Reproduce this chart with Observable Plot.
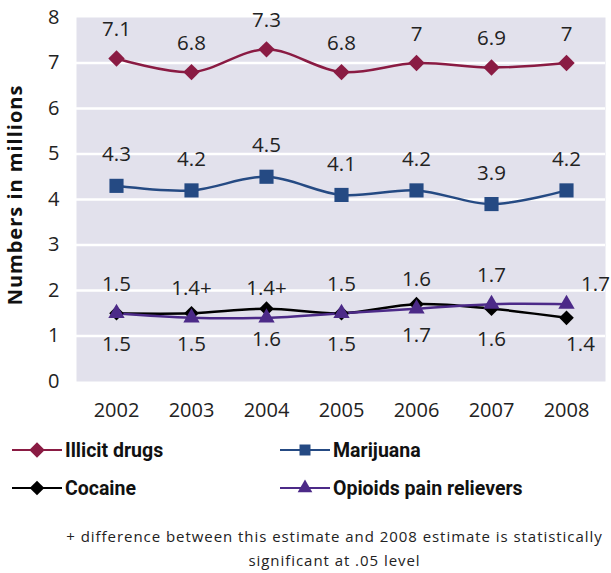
<!DOCTYPE html>
<html>
<head>
<meta charset="utf-8">
<script src="https://cdn.jsdelivr.net/npm/d3@7"></script>
<script src="https://cdn.jsdelivr.net/npm/@observablehq/plot@0.6"></script>
<style>
  body { margin: 0; background: #fff; font-family: "Open Sans", sans-serif; color: #111; }
  #chart { position: relative; width: 611px; }
  .legend { display: grid; grid-template-columns: 268px 330px; padding-left: 12px; row-gap: 8px; margin-top: 5px; }
  .legend .item { display: flex; align-items: center; font-family: Roboto, sans-serif; font-weight: bold; font-size: 19.5px; height: 30px; }
  .legend svg { margin-right: 3px; }
  .caption { text-align: center; font-size: 15px; letter-spacing: 0.95px; line-height: 24px; margin-top: 21px; padding-left: 58px; color: #222; }
</style>
</head>
<body>
<div id="chart"></div>
<script>
// Survey years
const years = [2002, 2003, 2004, 2005, 2006, 2007, 2008];

// Numbers in millions, by substance
const illicit = [7.1, 6.8, 7.3, 6.8, 7, 6.9, 7];
const marijuana = [4.3, 4.2, 4.5, 4.1, 4.2, 3.9, 4.2];
const cocaine = [1.5, 1.5, 1.6, 1.5, 1.7, 1.6, 1.4];
const opioids = [1.5, 1.4, 1.4, 1.5, 1.6, 1.7, 1.7];

// "+" marks estimates that differ significantly from 2008
const opioidFlags = ["", "+", "+", "", "", "", ""];

const seriesNames = ["Illicit drugs", "Marijuana", "Cocaine", "Opioids pain relievers"];
const yTicks = [0, 1, 2, 3, 4, 5, 6, 7, 8];
const gridLines = [1, 2, 3, 4, 5, 6, 7];
const footnote = ["+ difference between this estimate and 2008 estimate is statistically", "significant at .05 level"];

const colors = {
  "Illicit drugs": "#8a1b43",
  "Marijuana": "#254a83",
  "Cocaine": "#000000",
  "Opioids pain relievers": "#4c2a88"
};
const symbols = {
  "Illicit drugs": "diamond2",
  "Marijuana": "square2",
  "Cocaine": "diamond2",
  "Opioids pain relievers": "triangle2"
};
const radii = {
  "Illicit drugs": 7.4,
  "Marijuana": 9,
  "Cocaine": 6.6,
  "Opioids pain relievers": 7.8
};

const toRows = (name, values, flags) =>
  years.map((year, i) => ({ name, year, value: values[i], label: String(values[i]) + (flags ? flags[i] : "") }));

const illicitRows = toRows(seriesNames[0], illicit);
const marijuanaRows = toRows(seriesNames[1], marijuana);
const cocaineRows = toRows(seriesNames[2], cocaine);
const opioidRows = toRows(seriesNames[3], opioids, opioidFlags);

const lastYear = years[years.length - 1];
const lineOf = (rows) => Plot.line(rows, { x: "year", y: "value", stroke: colors[rows[0].name], strokeWidth: 2.5, curve: "catmull-rom" });
const dotsOf = (rows) => Plot.dot(rows, { x: "year", y: "value", symbol: symbols[rows[0].name], r: radii[rows[0].name], fill: colors[rows[0].name], stroke: "none" });
const labelStyle = { x: "year", y: "value", text: "label", fill: "#222", fontSize: 20.5 };

const plot = Plot.plot({
  width: 611,
  height: 430,
  marginLeft: 76,
  marginRight: 6,
  marginTop: 17,
  marginBottom: 49,
  style: { fontFamily: "Open Sans, sans-serif", fontSize: "18px", color: "#222", background: "transparent" },
  x: { type: "point", domain: years, padding: 0.5, label: null, tickSize: 0, tickPadding: 22, tickFormat: (d) => String(d) },
  y: { domain: [0, 8], ticks: yTicks, label: null, tickSize: 0, tickPadding: 17 },
  marks: [
    Plot.frame({ fill: "#e2e1ec", stroke: null }),
    Plot.ruleY(gridLines, { stroke: "white", strokeWidth: 2.5 }),
    Plot.axisX({ tickSize: 0, tickPadding: 21, fontSize: 20, tickFormat: (d) => String(d), label: null }),
    Plot.axisY({ ticks: yTicks, tickSize: 0, tickPadding: 17, fontSize: 20, label: null }),
    lineOf(illicitRows),
    lineOf(marijuanaRows),
    lineOf(cocaineRows),
    lineOf(opioidRows),
    dotsOf(illicitRows),
    dotsOf(marijuanaRows),
    dotsOf(cocaineRows),
    dotsOf(opioidRows),
    Plot.text(illicitRows, { ...labelStyle, dy: -29 }),
    Plot.text(marijuanaRows, { ...labelStyle, dy: -31 }),
    Plot.text(opioidRows.filter((d) => d.year !== lastYear), { ...labelStyle, dy: -29 }),
    Plot.text(opioidRows.filter((d) => d.year === lastYear), { ...labelStyle, dx: 29, dy: -20 }),
    Plot.text(cocaineRows.filter((d) => d.year !== lastYear), { ...labelStyle, dy: 31 }),
    Plot.text(cocaineRows.filter((d) => d.year === lastYear), { ...labelStyle, dx: 14, dy: 27 })
  ]
});

// Rotated y-axis title
const svg = d3.select(plot);
svg.append("text")
  .attr("transform", "translate(17,195) rotate(-90)")
  .attr("text-anchor", "middle")
  .attr("dominant-baseline", "middle")
  .attr("font-weight", "bold")
  .attr("font-size", 20)
  .attr("letter-spacing", "1px")
  .attr("fill", "#111")
  .text("Numbers in millions");

const root = document.getElementById("chart");
root.appendChild(plot);

// Legend: line swatch with the series marker, then the series name
const legend = d3.select(root).append("div").attr("class", "legend");
for (const name of seriesNames) {
  const item = legend.append("div").attr("class", "item");
  const sw = item.append("svg").attr("width", 50).attr("height", 20);
  sw.append("line").attr("x1", 0).attr("x2", 50).attr("y1", 10).attr("y2", 10)
    .attr("stroke", colors[name]).attr("stroke-width", 2.2);
  const symType = { diamond2: d3.symbolDiamond2, square2: d3.symbolSquare2, triangle2: d3.symbolTriangle2 }[symbols[name]];
  const r = Math.min(radii[name], 7);
  sw.append("path").attr("transform", "translate(25,10)")
    .attr("d", d3.symbol(symType, r * r * Math.PI)())
    .attr("fill", colors[name]);
  item.append("span").text(name);
}

// Footnote
const cap = d3.select(root).append("div").attr("class", "caption");
footnote.forEach((line) => cap.append("div").text(line));
</script>
</body>
</html>
